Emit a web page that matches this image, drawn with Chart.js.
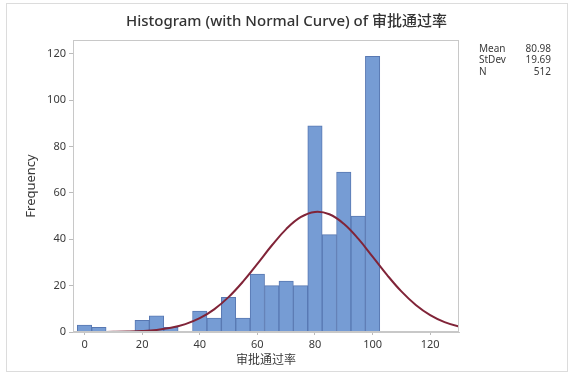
<!DOCTYPE html>
<html>
<head>
<meta charset="utf-8">
<script src="https://cdn.jsdelivr.net/npm/chart.js@4/dist/chart.umd.min.js"></script>
<style>
  html, body { margin: 0; padding: 0; background: #ffffff; }
  #wrap { width: 573px; height: 381px; position: relative; }
</style>
</head>
<body>
<div id="wrap"><canvas id="c" width="573" height="381"></canvas></div>
<script>
// Histogram bins (bin midpoints, width 5) and frequencies
const binMids = [0, 5, 10, 15, 20, 25, 30, 35, 40, 45, 50, 55, 60, 65, 70, 75, 80, 85, 90, 95, 100];
const counts  = [3, 2, 0, 0, 5, 7, 2, 0, 9, 6, 15, 6, 25, 20, 22, 20, 89, 42, 69, 50, 119];

// Normal curve points
const curveX = [0, 5, 10, 15, 20, 25, 30, 35, 40, 45, 50, 55, 60, 65, 70, 75, 80, 85, 90, 95, 100, 105, 110, 115, 120, 125, 130, 135];
const curveY = [0.01, 0.03, 0.08, 0.19, 0.43, 0.91, 1.82, 3.39, 5.95, 9.77, 15.04, 21.72, 29.40, 37.32, 44.40, 49.53, 51.81, 50.80, 46.70, 40.26, 32.53, 24.65, 17.51, 11.66, 7.28, 4.26, 2.34, 1.20];

// Axis ticks
const xTicks = [0, 20, 40, 60, 80, 100, 120];
const yTicks = [0, 20, 40, 60, 80, 100, 120];

// Summary statistics box
const statLabels = ['Mean', 'StDev', 'N'];
const statValues = ['80.98', '19.69', '512'];

const titleText = 'Histogram (with Normal Curve) of 审批通过率';
const xTitle = '审批通过率';
const yTitle = 'Frequency';

const FONT = '"Noto Sans", "Noto Sans CJK SC", sans-serif';
const TXT = '#3a3a3a';

const framePlugin = {
  id: 'frame',
  beforeDraw(chart) {
    const ctx = chart.ctx;
    ctx.save();
    ctx.strokeStyle = '#dcdcdc';
    ctx.lineWidth = 1;
    ctx.strokeRect(6.5, 3.5, 561, 368);
    ctx.restore();
  },
  afterDraw(chart) {
    const ctx = chart.ctx;
    const a = chart.chartArea;
    ctx.save();
    ctx.strokeStyle = '#c8c8c8';
    ctx.lineWidth = 1;
    ctx.strokeRect(Math.round(a.left) + 0.5, Math.round(a.top) + 0.5,
                   Math.round(a.right - a.left) - 1, Math.round(a.bottom - a.top) - 1);
    // stats box
    ctx.fillStyle = TXT;
    ctx.font = '10px ' + FONT;
    ctx.textBaseline = 'middle';
    const y0 = 49, dy = 11.5;
    statLabels.forEach((lab, i) => {
      ctx.textAlign = 'left';
      ctx.fillText(lab, 479, y0 + i * dy);
      ctx.textAlign = 'right';
      ctx.fillText(statValues[i], 551, y0 + i * dy);
    });
    ctx.restore();
  }
};

new Chart(document.getElementById('c'), {
  type: 'bar',
  data: {
    datasets: [
      {
        type: 'line',
        data: curveX.map((x, i) => ({ x: x, y: curveY[i] })),
        borderColor: 'rgb(128, 36, 56)',
        borderWidth: 2,
        pointRadius: 0,
        tension: 0.4,
        fill: false,
        order: 0
      },
      {
        type: 'bar',
        data: binMids.map((x, i) => ({ x: x, y: counts[i] })),
        backgroundColor: 'rgb(118, 156, 212)',
        borderColor: 'rgb(88, 120, 178)',
        borderWidth: 1,
        barPercentage: 1,
        categoryPercentage: 1,
        order: 1
      }
    ]
  },
  options: {
    responsive: false,
    animation: false,
    devicePixelRatio: 1,
    layout: { padding: { left: 0, right: 0, top: 0, bottom: 0 } },
    plugins: {
      legend: { display: false },
      tooltip: { enabled: false },
      title: {
        display: true,
        text: titleText,
        color: '#333333',
        font: { family: FONT, size: 15, weight: '500' },
        padding: { top: 13, bottom: 9 }
      }
    },
    scales: {
      x: {
        type: 'linear',
        position: 'bottom',
        offset: false,
        min: -4,
        max: 130,
        afterBuildTicks: (s) => { s.ticks = xTicks.map(v => ({ value: v })); },
        afterFit: (s) => { s.height = 49; },
        ticks: { color: TXT, font: { family: FONT, size: 11 }, padding: 3, maxRotation: 0 },
        grid: { display: true, offset: false, drawOnChartArea: false, tickLength: 3, color: '#bbbbbb' },
        border: { display: true, color: '#c8c8c8' },
        title: {
          display: true, text: xTitle, color: TXT,
          font: { family: FONT, size: 12 }, padding: { top: 0, bottom: 13 }
        }
      },
      y: {
        type: 'linear',
        position: 'left',
        min: 0,
        max: 126,
        afterBuildTicks: (s) => { s.ticks = yTicks.map(v => ({ value: v })); },
        afterFit: (s) => { s.width = 73; },
        ticks: { color: TXT, font: { family: FONT, size: 11 }, padding: 3 },
        grid: { display: true, drawOnChartArea: false, tickLength: 4, color: '#bbbbbb' },
        border: { display: true, color: '#c8c8c8' },
        title: {
          display: true, text: yTitle, color: TXT,
          font: { family: FONT, size: 13 }, padding: { top: 23, bottom: 0 }
        }
      },
      yr: {
        type: 'linear',
        position: 'right',
        min: 0,
        max: 126,
        afterFit: (s) => { s.width = 114; },
        ticks: { display: false },
        grid: { display: false },
        border: { display: false }
      }
    }
  },
  plugins: [framePlugin]
});
</script>
</body>
</html>
